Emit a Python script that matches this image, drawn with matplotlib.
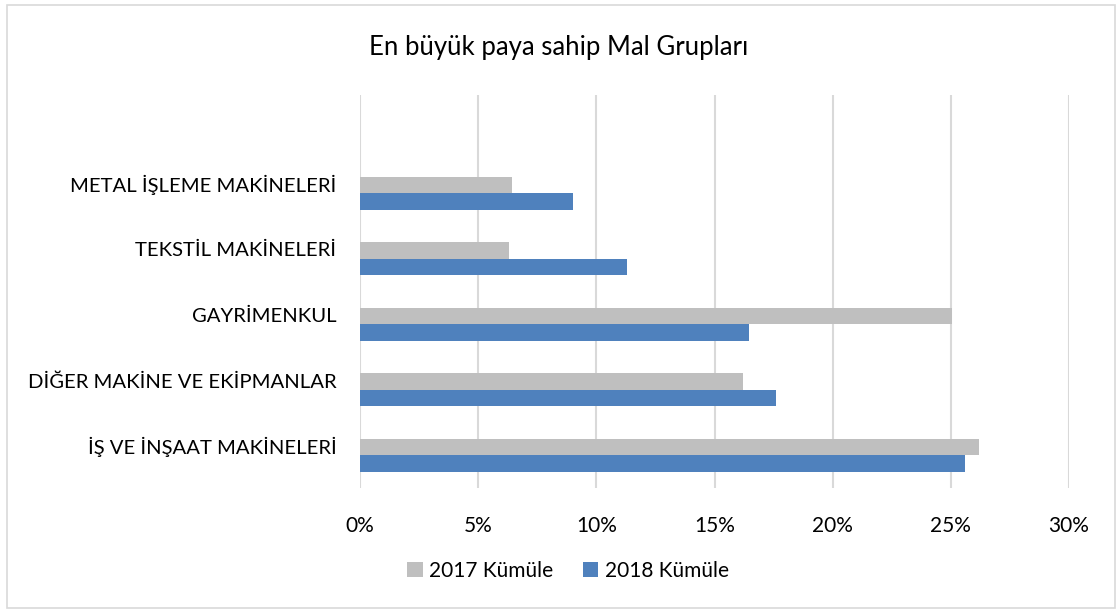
import numpy as np
import matplotlib.pyplot as plt
from matplotlib.patches import Rectangle
from matplotlib.ticker import PercentFormatter
from matplotlib.transforms import ScaledTranslation

plt.rcParams['font.family'] = ['Lato', 'DejaVu Sans']

categories = ['İŞ VE İNŞAAT MAKİNELERİ', 'DİĞER MAKİNE VE EKİPMANLAR', 'GAYRİMENKUL',
              'TEKSTİL MAKİNELERİ', 'METAL İŞLEME MAKİNELERİ']
share_2017 = [26.2, 16.2, 25.05, 6.3, 6.45]
share_2018 = [25.6, 17.6, 16.45, 11.3, 9.0]
series_names = ['2017 Kümüle', '2018 Kümüle']
colors = ['#bfbfbf', '#4f81bd']

fig = plt.figure(figsize=(11.17, 6.10), dpi=100)
ax = fig.add_axes([360 / 1117, 1 - 488 / 610, 709 / 1117, 393 / 610])

y = np.arange(len(categories))
h = 0.255
ax.barh(y + h / 2, share_2017, height=h, color=colors[0], label=series_names[0], zorder=3)
ax.barh(y - h / 2, share_2018, height=h, color=colors[1], label=series_names[1], zorder=3)

ax.set_xlim(0, 30)
ax.set_ylim(-0.5, 5.5)
ax.set_xticks(np.arange(0, 31, 5))
ax.xaxis.set_major_formatter(PercentFormatter(decimals=0))
ax.set_yticks(y)
ax.set_yticklabels(categories)
ax.tick_params(axis='both', length=0, labelsize=15, colors='black')
ax.tick_params(axis='x', pad=20)
ax.tick_params(axis='y', pad=17, labelsize=14.6)
# labels sit a little above bar centre in the original
shift = ScaledTranslation(0, 8 / 100, fig.dpi_scale_trans)
for lbl in ax.get_yticklabels():
    lbl.set_va('center')
    lbl.set_transform(lbl.get_transform() + shift)
ax.grid(axis='x', color='#d9d9d9', linewidth=1.5, zorder=0)
for s in ax.spines.values():
    s.set_visible(False)

fig.text(0.5, 1 - 47 / 610, 'En büyük paya sahip Mal Grupları', ha='center', va='center', fontsize=18.5)

handles, labels = ax.get_legend_handles_labels()
fig.legend(handles, labels, loc='center', bbox_to_anchor=(568 / 1117, 1 - 571 / 610), ncol=2,
           frameon=False, fontsize=15, handlelength=0.75, handleheight=0.75,
           handletextpad=0.3, columnspacing=1.4)

fig.patches.append(Rectangle((7 / 1117, 2 / 610), 1108 / 1117, 603 / 610, transform=fig.transFigure,
                             fill=False, edgecolor='#d9d9d9', linewidth=1.2))

fig.savefig('out.png', dpi=100)
